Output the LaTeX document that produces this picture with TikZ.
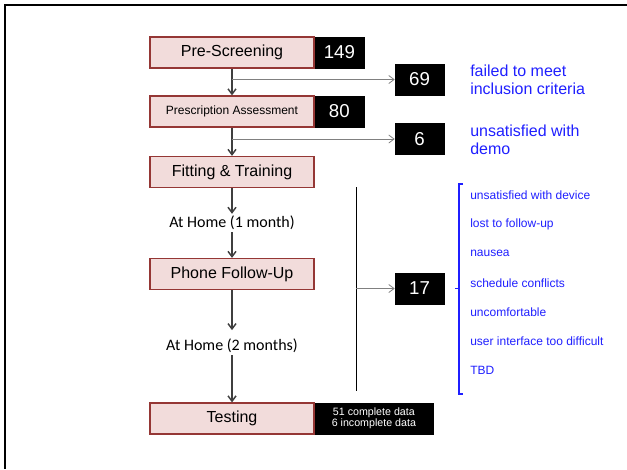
\documentclass[tikz,border=0pt]{standalone}
\usepackage{fontspec}
\setmainfont{Liberation Sans}
\newfontfamily\homefont{Carlito}
\usepackage{tikz}
\usetikzlibrary{
  arrows.meta,
  positioning
}
\definecolor{stagefill}{HTML}{F2DCDB}
\definecolor{stageline}{HTML}{953735}
\definecolor{reasonblue}{HTML}{1F1FFF}
\definecolor{flowgray}{HTML}{3F3F3F}

\begin{document}
\begin{tikzpicture}[
  x=0.75pt, y=-0.75pt,
  box/.style={draw, inner sep=0pt, minimum height=23.25pt, align=center},
  stage/.style={box, draw=stageline, line width=0.9pt, fill=stagefill,
                minimum width=123pt, font=\fontsize{12}{14}\selectfont},
  count/.style={box, draw=black, fill=black, text=white,
                minimum width=36.75pt, font=\fontsize{14}{16}\selectfont},
  home/.style={inner sep=1.5pt, font=\homefont\fontsize{12}{14}\selectfont},
  flow/.style={-{Straight Barb[length=4pt,width=6pt]}, flowgray, line width=1.1pt},
  drop/.style={-{Straight Barb[length=4pt,width=6pt]}, gray, line width=0.6pt},
  why/.style={text=reasonblue, anchor=west, inner sep=0pt, align=left,
              font=\fontsize{12}{13.5}\selectfont},
  reason/.style={text=reasonblue, anchor=west, inner sep=0pt,
                 font=\fontsize{9}{10}\selectfont},
]
  \useasboundingbox (0,0) rectangle (627,469);

  % slide frame
  \draw[line width=2.2pt] (4,5) -- (627,5);
  \draw[line width=2.2pt] (5,5) -- (5,469);

  % main flow
  \node[stage] (pre)   at (232,52.5)  {Pre-Screening};
  \node[count, right=0pt of pre] (n149) {149};
  \node[stage, font=\fontsize{9}{11}\selectfont] (assess) at (232,111.5) {Prescription Assessment};
  \node[count, right=0pt of assess] (n80) {80};
  \node[stage] (fit)   at (232,172)   {Fitting \& Training};
  \node[home]  (home1) at (232,223)   {At Home (1 month)};
  \node[stage] (phone) at (232,274)   {Phone Follow-Up};
  \node[home]  (home2) at (232,346)   {At Home (2 months)};
  \node[stage] (test)  at (232,418.5) {Testing};
  \node[box, fill=black, text=white, minimum width=88.5pt,
        font=\fontsize{8}{8.3}\selectfont, right=0pt of test] (data)
        {51 complete data\\6 incomplete data};

  \draw[flow] (pre) -- (assess);
  \draw[flow] (assess) -- (fit);
  \draw[flow] (fit) -- (home1);
  \draw[flow] (home1) -- (phone);
  \draw[flow, shorten >=5pt] (phone) -- (home2);
  \draw[flow] (home2) -- (test);

  % drop-outs
  \node[count] (n69) at (419.5,79.5)  {69};
  \node[count] (n6)  at (419.5,139)   {6};
  \node[count] (n17) at (419.5,288.5) {17};

  \coordinate (j1) at (232,79.5);
  \coordinate (j2) at (232,139);
  \draw[drop] (j1) -- (n69.west);
  \draw[drop] (j2) -- (n6.west);

  \coordinate (vtop) at (356,187);
  \coordinate (vbot) at (356,391);
  \coordinate (jv)   at (356,288.5);
  \draw[line width=0.6pt] (vtop) -- (vbot);
  \draw[drop] (jv) -- (n17.west);

  % reasons
  \node[why] (fail) at (470,80)  {failed to meet\\inclusion criteria};
  \node[why] (demo) at (470,140) {unsatisfied with\\demo};

  \draw[reasonblue, line width=1.2pt]
    (463,184) -- (459,184) -- (459,394) -- (463,394)
    (459,288.5) -- (455,288.5);
  \foreach \txt [count=\i] in {unsatisfied with device, lost to follow-up,
      nausea, schedule conflicts, uncomfortable,
      user interface too difficult, TBD}
    \node[reason] (r\i) at (470,{195+29.3*(\i-1)}) {\txt};
\end{tikzpicture}
\end{document}
